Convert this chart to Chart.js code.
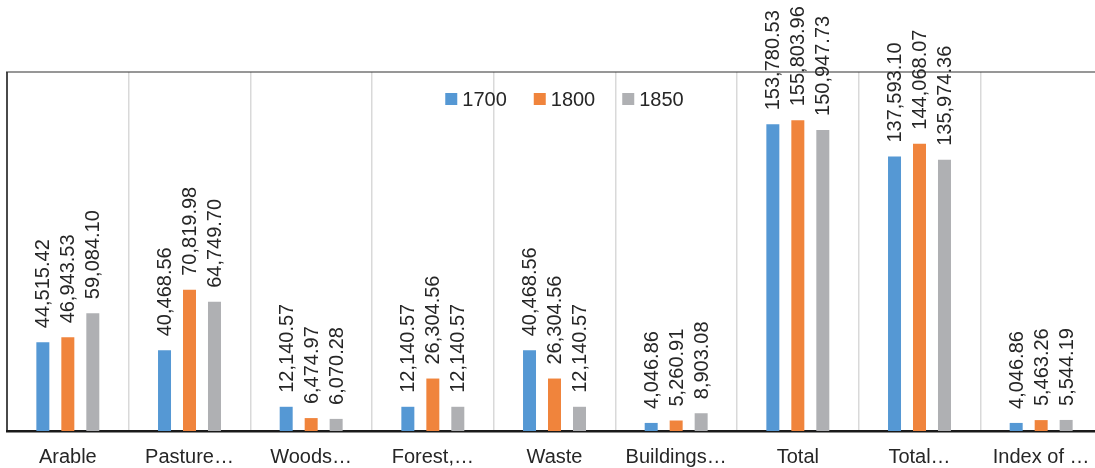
<!DOCTYPE html>
<html>
<head>
<meta charset="utf-8">
<script src="https://cdn.jsdelivr.net/npm/chart.js@4/dist/chart.umd.min.js"></script>
<style>
  html, body { margin: 0; padding: 0; background: #fff; overflow: hidden; }
  #wrap { position: relative; width: 1110px; height: 468px; }
</style>
</head>
<body>
<div id="wrap"><canvas id="c"></canvas></div>
<script>
// Land use categories (labels as shown on the axis)
const categories = ["Arable", "Pasture…", "Woods…", "Forest,…", "Waste", "Buildings…", "Total", "Total…", "Index of …"];
const years = ["1700", "1800", "1850"];
const values1700 = [44515.42, 40468.56, 12140.57, 12140.57, 40468.56, 4046.86, 153780.53, 137593.10, 4046.86];
const values1800 = [46943.53, 70819.98, 6474.97, 26304.56, 26304.56, 5260.91, 155803.96, 144068.07, 5463.26];
const values1850 = [59084.10, 64749.70, 6070.28, 12140.57, 12140.57, 8903.08, 150947.73, 135974.36, 5544.19];
const colors = ["#5598D4", "#F0843C", "#AFB0B3"];

const FONT = "'Liberation Sans', Arial, sans-serif";
const TEXT = "#262626";

// Vertical value labels above each bar
const valueLabels = {
  id: "valueLabels",
  afterDatasetsDraw(chart) {
    const ctx = chart.ctx;
    ctx.save();
    ctx.font = "20px " + FONT;
    ctx.fillStyle = TEXT;
    ctx.textAlign = "left";
    ctx.textBaseline = "middle";
    chart.data.datasets.forEach((ds, di) => {
      chart.getDatasetMeta(di).data.forEach((bar, i) => {
        const txt = ds.data[i].toLocaleString("en-US", { minimumFractionDigits: 2, maximumFractionDigits: 2 });
        ctx.save();
        ctx.translate(bar.x + 1, bar.y - 14);
        ctx.rotate(-Math.PI / 2);
        ctx.fillText(txt, 0, 0);
        ctx.restore();
      });
    });
    ctx.restore();
  }
};

// Top frame line of the plot area
const frameTop = {
  id: "frameTop",
  beforeDatasetsDraw(chart) {
    const { ctx, chartArea } = chart;
    ctx.save();
    ctx.strokeStyle = "#303030";
    ctx.lineWidth = 1.2;
    ctx.beginPath();
    ctx.moveTo(chartArea.left - 1, chartArea.top);
    ctx.lineTo(chart.width, chartArea.top);
    ctx.stroke();
    ctx.restore();
  }
};

// Horizontal legend row inside the plot area
const innerLegend = {
  id: "innerLegend",
  afterDatasetsDraw(chart) {
    const { ctx, chartArea } = chart;
    const box = 12, gap = 5, spacing = 27, y = chartArea.top + 27;
    ctx.save();
    ctx.font = "20px " + FONT;
    ctx.textBaseline = "middle";
    ctx.textAlign = "left";
    const items = chart.data.datasets.map(ds => ({ text: ds.label, color: ds.backgroundColor, w: ctx.measureText(ds.label).width }));
    const total = items.reduce((s, it) => s + box + gap + it.w, 0) + spacing * (items.length - 1);
    let x = (chartArea.left + chartArea.right) / 2 + 10 - total / 2;
    items.forEach(it => {
      ctx.fillStyle = it.color;
      ctx.fillRect(x, y - box / 2, box, box);
      ctx.fillStyle = TEXT;
      ctx.fillText(it.text, x + box + gap, y + 1);
      x += box + gap + it.w + spacing;
    });
    ctx.restore();
  }
};

new Chart(document.getElementById("c"), {
  type: "bar",
  data: {
    labels: categories,
    datasets: [
      { label: years[0], data: values1700, backgroundColor: colors[0] },
      { label: years[1], data: values1800, backgroundColor: colors[1] },
      { label: years[2], data: values1850, backgroundColor: colors[2] }
    ]
  },
  options: {
    responsive: true,
    maintainAspectRatio: false,
    animation: false,
    layout: { padding: { left: 7, right: 8, top: 72, bottom: 0 } },
    datasets: { bar: { categoryPercentage: 0.616, barPercentage: 0.52 } },
    plugins: {
      tooltip: { enabled: false },
      legend: { display: false }
    },
    scales: {
      x: {
        grid: {
          offset: true,
          drawTicks: false,
          color: (c) => (c.index === 0 ? "#4a4a4a" : "#d9d9d9"),
          lineWidth: (c) => (c.index === 0 ? 2 : 1.5)
        },
        border: { display: true, color: "#1a1a1a", width: 2.5 },
        ticks: { font: { family: FONT, size: 20 }, color: TEXT, padding: 14, maxRotation: 0, autoSkip: false },
        afterFit(scale) { scale.height = 37; }
      },
      y: {
        display: false,
        min: 0,
        max: 180000
      }
    }
  },
  plugins: [valueLabels, frameTop, innerLegend]
});
</script>
</body>
</html>
